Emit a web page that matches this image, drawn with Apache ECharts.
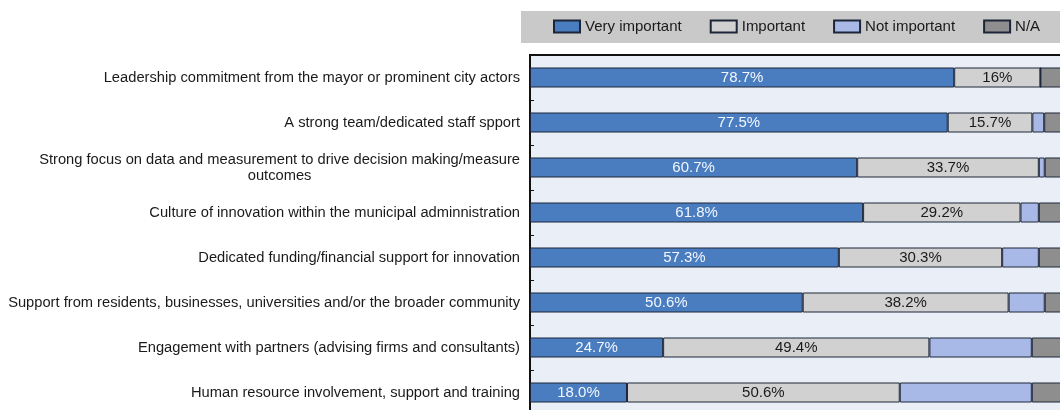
<!DOCTYPE html>
<html>
<head>
<meta charset="utf-8">
<title>Factors for innovation</title>
<script src="https://cdn.jsdelivr.net/npm/echarts@6/dist/echarts.min.js"></script>
<style>
  html, body { margin: 0; padding: 0; background: #ffffff; }
  #chart { width: 1060px; height: 410px; }
</style>
</head>
<body>
<div id="chart"></div>
<script>
// Survey factors, top to bottom
const categories = [
  'Leadership commitment from the mayor or prominent city actors',
  'A strong team/dedicated staff spport',
  'Strong focus on data and measurement to drive decision making/measure\noutcomes',
  'Culture of innovation within the municipal adminnistration',
  'Dedicated funding/financial support for innovation',
  'Support from residents, businesses, universities and/or the broader community',
  'Engagement with partners (advising firms and consultants)',
  'Human resource involvement, support and training'
];

// Shares of respondents, in percent
const veryImportant = ['78.7', '77.5', '60.7', '61.8', '57.3', '50.6', '24.7', '18.0'];
const important     = ['16', '15.7', '33.7', '29.2', '30.3', '38.2', '49.4', '50.6'];
const notImportant  = ['0', '2.2', '1.1', '3.4', '6.8', '6.7', '19.0', '24.5'];
const notAvailable  = ['5.3', '4.6', '4.5', '5.6', '5.6', '4.5', '6.9', '6.9'];

const seriesNames = ['Very important', 'Important', 'Not important', 'N/A'];

const FONT = '"Liberation Sans", Arial, sans-serif';
const LABEL_SIZE = 14.7;

const chart = echarts.init(document.getElementById('chart'), null, { renderer: 'canvas' });

const barBorder = { borderColor: '#1d2638', borderWidth: 1 };

function makeSeries(name, values, color, labelColor) {
  return {
    name: name,
    type: 'bar',
    stack: 'total',
    barWidth: 20,
    data: values.map(Number),
    itemStyle: Object.assign({ color: color }, barBorder),
    label: {
      show: labelColor !== null,
      position: 'inside',
      color: labelColor || '#000',
      fontFamily: FONT,
      fontSize: 15,
      formatter: p => values[p.dataIndex] + '%'
    },
    emphasis: { disabled: true }
  };
}

chart.setOption({
  animation: false,
  backgroundColor: '#ffffff',
  graphic: [{
    type: 'rect',
    left: 521, top: 11,
    shape: { width: 560, height: 32 },
    style: { fill: '#c9c9c9' },
    silent: true,
    z: -10
  }],
  legend: {
    data: seriesNames,
    icon: 'rect',
    left: 553,
    top: 19,
    padding: 0,
    itemWidth: 26,
    itemHeight: 12,
    itemGap: 28,
    selectedMode: false,
    textStyle: { fontFamily: FONT, fontSize: 15, color: '#1a1a1a' }
  },
  grid: {
    left: 530,
    top: 55,
    width: 539,
    height: 360,
    outerBoundsMode: 'none',
    containLabel: false,
    show: true,
    backgroundColor: '#eaeef6',
    borderColor: '#111111',
    borderWidth: 2
  },
  xAxis: {
    type: 'value',
    min: 0,
    max: 100,
    show: false
  },
  yAxis: {
    type: 'category',
    inverse: true,
    data: categories,
    axisLine: { show: true, lineStyle: { color: '#111111', width: 2 } },
    axisTick: { show: true, inside: true, length: 4, lineStyle: { color: '#111111' } },
    axisLabel: {
      margin: 10,
      fontFamily: FONT,
      fontSize: LABEL_SIZE,
      color: '#1a1a1a',
      lineHeight: 16,
      formatter: function (val) {
        if (val.indexOf('\n') < 0) return '{a|' + val + '}';
        const parts = val.split('\n');
        // second line of a wrapped label sits centred under the first
        return '{a|' + parts[0] + '}\n{c|' + parts[1] + '}';
      },
      rich: {
        a: { fontFamily: FONT, fontSize: LABEL_SIZE, color: '#1a1a1a', lineHeight: 16 },
        c: { fontFamily: FONT, fontSize: LABEL_SIZE, color: '#1a1a1a', lineHeight: 16, align: 'center' }
      }
    }
  },
  series: [
    makeSeries('Very important', veryImportant, '#4a7dbf', '#f2f6ff'),
    makeSeries('Important', important, '#d1d1d1', '#1a1a1a'),
    makeSeries('Not important', notImportant, '#a9b9e7', null),
    makeSeries('N/A', notAvailable, '#8e8e8e', null)
  ]
});
</script>
</body>
</html>
